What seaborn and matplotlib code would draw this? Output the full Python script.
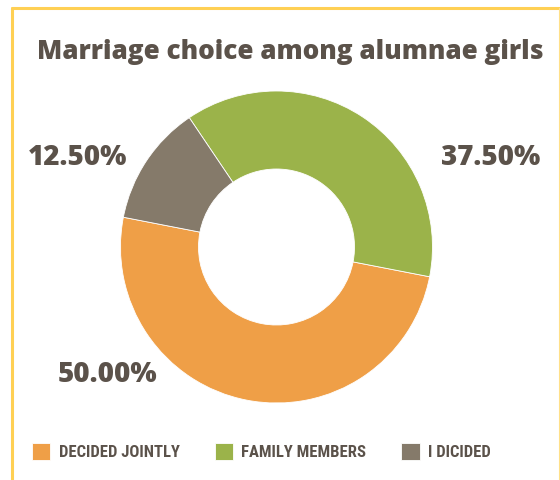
import matplotlib
matplotlib.use("Agg")
import matplotlib.pyplot as plt
import seaborn as sns
from matplotlib import font_manager
from matplotlib.lines import Line2D

# datos del grafico
categories = ["DECIDED JOINTLY", "FAMILY MEMBERS", "I DICIDED"]
shares = [50.0, 37.5, 12.5]
pct_labels = ["50.00%", "37.50%", "12.50%"]
colors = ["#EF9F47", "#9BB34A", "#857A6A"]

TEXT = "#5B524A"
W, H = 560, 480

sns.set_theme(style="white")
plt.rcParams['font.family'] = ['Open Sans', 'DejaVu Sans']

names = {f.name for f in font_manager.fontManager.ttflist}
narrow = next((n for n in ["Roboto Condensed", "Open Sans Condensed", "Liberation Sans Narrow",
                           "Arial Narrow", "Roboto"] if n in names), "DejaVu Sans")

fig = plt.figure(figsize=(W / 100, H / 100), dpi=100)
fig.patch.set_facecolor("white")

# centro del donut en pixeles y radio
cx, cy, r = 276.5, 247, 156
ax = fig.add_axes([(cx - r) / W, (H - cy - r) / H, 2 * r / W, 2 * r / H])
wedges, _ = ax.pie(shares, colors=colors, startangle=169, counterclock=True, radius=1,
                   wedgeprops=dict(width=0.5, edgecolor="white", linewidth=0.6))
ax.set_xlim(-1, 1)
ax.set_ylim(-1, 1)
ax.set_aspect("equal")
ax.axis("off")

# etiquetas de porcentaje (posiciones a mano como en la imagen)
label_pos = [(107.5, 382), (491, 165), (77.5, 165)]
for txt, (x, y) in zip(pct_labels, label_pos):
    fig.text(x / W, 1 - y / H, txt, ha="center", va="baseline", fontsize=20,
             fontweight=800, color=TEXT)

fig.text(290 / W, 1 - 59 / H, "Marriage choice among alumnae girls", ha="center",
         va="baseline", fontsize=18.8, fontweight=800, color=TEXT)

leg = fig.legend(wedges, categories, loc="center left", bbox_to_anchor=(32 / W, 1 - 451.5 / H),
                 ncol=3, frameon=False, handlelength=1.1, handleheight=1.2,
                 handletextpad=0.5, columnspacing=2.1, borderaxespad=0, borderpad=0,
                 prop={"family": narrow, "size": 12, "weight": "bold"})
for t in leg.get_texts():
    t.set_color(TEXT)

# bordes amarillos
fig.add_artist(Line2D([11.5 / W, 1], [1 - 7.5 / H] * 2, color="#FFD054", lw=2.2))
fig.add_artist(Line2D([11.5 / W] * 2, [0, 1 - 7.5 / H], color="#FFD054", lw=2.2))
fig.add_artist(Line2D([558.5 / W] * 2, [0, 1 - 7.5 / H], color="#FFE08A", lw=0.8))

fig.savefig("out.png", dpi=100)
